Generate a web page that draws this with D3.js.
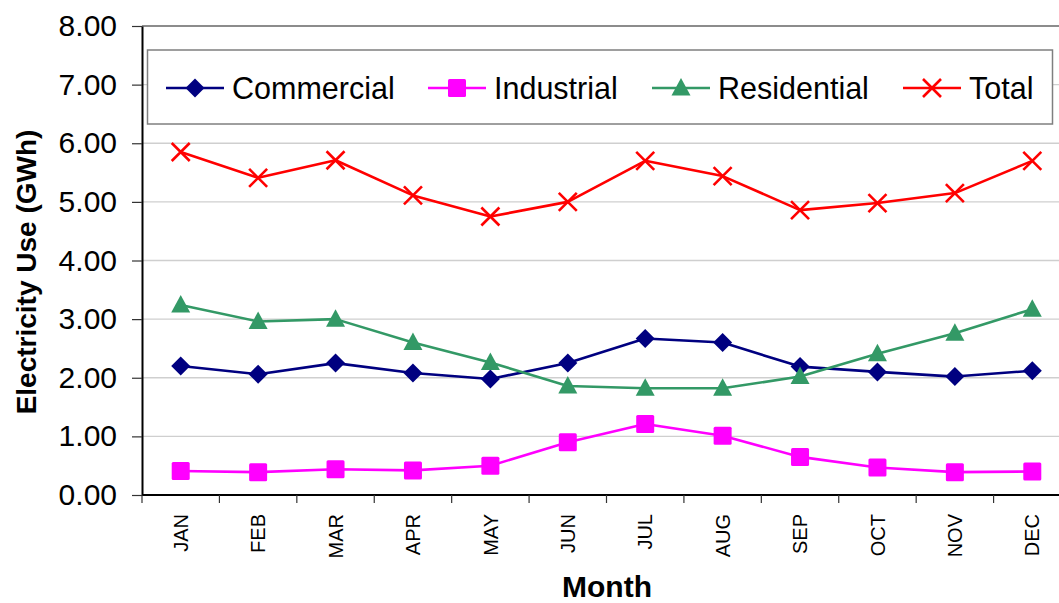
<!DOCTYPE html>
<html>
<head>
<meta charset="utf-8">
<script src="https://cdn.jsdelivr.net/npm/d3@7"></script>
<style>
  html, body { margin: 0; padding: 0; background: #fff; }
  svg { display: block; font-family: "Liberation Sans", Arial, sans-serif; }
</style>
</head>
<body>
<svg id="chart" width="1059" height="603"></svg>
<script>
// Monthly electricity use by sector (GWh)
const months = ["JAN", "FEB", "MAR", "APR", "MAY", "JUN", "JUL", "AUG", "SEP", "OCT", "NOV", "DEC"];
const commercial = [2.20, 2.06, 2.25, 2.08, 1.98, 2.25, 2.67, 2.60, 2.19, 2.10, 2.02, 2.12];
const industrial = [0.41, 0.39, 0.44, 0.42, 0.50, 0.90, 1.21, 1.01, 0.65, 0.47, 0.39, 0.40];
const residential = [3.24, 2.96, 3.00, 2.60, 2.26, 1.86, 1.82, 1.82, 2.02, 2.41, 2.76, 3.17];
const total = [5.85, 5.41, 5.71, 5.11, 4.75, 5.00, 5.70, 5.44, 4.86, 4.98, 5.15, 5.70];
const yTicks = [0, 1, 2, 3, 4, 5, 6, 7, 8];
const seriesNames = ["Commercial", "Industrial", "Residential", "Total"];

const series = [
  { name: seriesNames[0], values: commercial, color: "#000080", marker: "diamond" },
  { name: seriesNames[1], values: industrial, color: "#ff00ff", marker: "square" },
  { name: seriesNames[2], values: residential, color: "#339966", marker: "triangle" },
  { name: seriesNames[3], values: total, color: "#ff0000", marker: "cross" }
];

const svg = d3.select("#chart");
const plot = { left: 142, right: 1071, top: 26, bottom: 495 };

const x = d3.scaleBand().domain(months).range([plot.left, plot.right]).padding(0);
const y = d3.scaleLinear().domain([0, 8]).range([plot.bottom, plot.top]);

// horizontal gridlines
svg.append("g").selectAll("line")
  .data(yTicks.filter(d => d > 0))
  .join("line")
  .attr("x1", plot.left).attr("x2", plot.right)
  .attr("y1", d => y(d)).attr("y2", d => y(d))
  .attr("stroke", d => d === 8 ? "#8c8c8c" : "#cfcfcf")
  .attr("stroke-width", d => d === 8 ? 2 : 1.3);

// y axis
const yAxis = svg.append("g")
  .attr("transform", `translate(${plot.left},0)`)
  .call(d3.axisLeft(y).tickValues(yTicks).tickFormat(d3.format(".2f")).tickSize(10).tickSizeOuter(0));
yAxis.select(".domain").attr("stroke", "#000").attr("stroke-width", 2);
yAxis.selectAll(".tick line").attr("stroke", "#333").attr("stroke-width", 1.2);
yAxis.selectAll(".tick text")
  .attr("x", -25)
  .attr("font-size", 30)
  .attr("font-family", "Liberation Sans, Arial, sans-serif")
  .attr("fill", "#000");

// x axis: boundary ticks between months
const xBase = svg.append("g");
xBase.append("line")
  .attr("x1", plot.left).attr("x2", plot.right)
  .attr("y1", plot.bottom).attr("y2", plot.bottom)
  .attr("stroke", "#000").attr("stroke-width", 2);
xBase.selectAll("line.tick")
  .data(months.concat(["_end"]))
  .join("line")
  .attr("class", "tick")
  .attr("x1", (d, i) => plot.left + i * x.bandwidth())
  .attr("x2", (d, i) => plot.left + i * x.bandwidth())
  .attr("y1", plot.bottom).attr("y2", plot.bottom + 8)
  .attr("stroke", "#333").attr("stroke-width", 1.2);

// month labels, rotated
const xAxis = svg.append("g")
  .attr("transform", `translate(0,${plot.bottom})`)
  .call(d3.axisBottom(x).tickSize(0));
xAxis.select(".domain").remove();
xAxis.selectAll(".tick text")
  .attr("transform", "rotate(-90)")
  .attr("text-anchor", "end")
  .attr("x", -19)
  .attr("y", 0)
  .attr("dy", "0.36em")
  .attr("font-size", 20)
  .attr("font-family", "Liberation Sans, Arial, sans-serif")
  .attr("fill", "#000");

// axis titles
svg.append("text")
  .attr("x", 607).attr("y", 597)
  .attr("text-anchor", "middle")
  .attr("font-size", 30).attr("font-weight", "bold")
  .text("Month");
svg.append("text")
  .attr("transform", "translate(36,272) rotate(-90)")
  .attr("text-anchor", "middle")
  .attr("font-size", 28).attr("font-weight", "bold")
  .text("Electricity Use (GWh)");

// marker shapes
function drawMarker(g, type, color) {
  if (type === "diamond") {
    g.append("path").attr("d", "M0,-9.5L9.5,0L0,9.5L-9.5,0Z").attr("fill", color);
  } else if (type === "square") {
    g.append("rect").attr("x", -9).attr("y", -9).attr("width", 18).attr("height", 18)
      .attr("rx", 1.5).attr("fill", color);
  } else if (type === "triangle") {
    g.append("path").attr("d", "M0,-10L9.5,7.5L-9.5,7.5Z").attr("fill", color);
  } else if (type === "cross") {
    g.append("path").attr("d", "M-9,-9L9,9M-9,9L9,-9")
      .attr("stroke", color).attr("stroke-width", 2.6).attr("fill", "none");
  }
}

const line = d3.line()
  .x((d, i) => x(months[i]) + x.bandwidth() / 2)
  .y(d => y(d));

series.forEach(s => {
  const g = svg.append("g");
  g.append("path")
    .attr("d", line(s.values))
    .attr("fill", "none")
    .attr("stroke", s.color)
    .attr("stroke-width", 2.6)
    .attr("stroke-linejoin", "round");
  s.values.forEach((v, i) => {
    const m = g.append("g")
      .attr("transform", `translate(${x(months[i]) + x.bandwidth() / 2},${y(v)})`);
    drawMarker(m, s.marker, s.color);
  });
});

// legend
const legend = svg.append("g");
legend.append("rect")
  .attr("x", 147.5).attr("y", 50).attr("width", 905).attr("height", 74)
  .attr("fill", "#fff").attr("stroke", "#7f7f7f").attr("stroke-width", 1.5);
const legendX = [166, 428, 652, 903];
series.forEach((s, i) => {
  const g = legend.append("g").attr("transform", `translate(${legendX[i]},88)`);
  g.append("line").attr("x1", 0).attr("x2", 58).attr("y1", 0).attr("y2", 0)
    .attr("stroke", s.color).attr("stroke-width", 2.6);
  drawMarker(g.append("g").attr("transform", "translate(29,0)"), s.marker, s.color);
  g.append("text")
    .attr("x", 66).attr("y", 11)
    .attr("font-size", 30.5)
    .attr("fill", "#000")
    .text(s.name);
});
</script>
</body>
</html>
